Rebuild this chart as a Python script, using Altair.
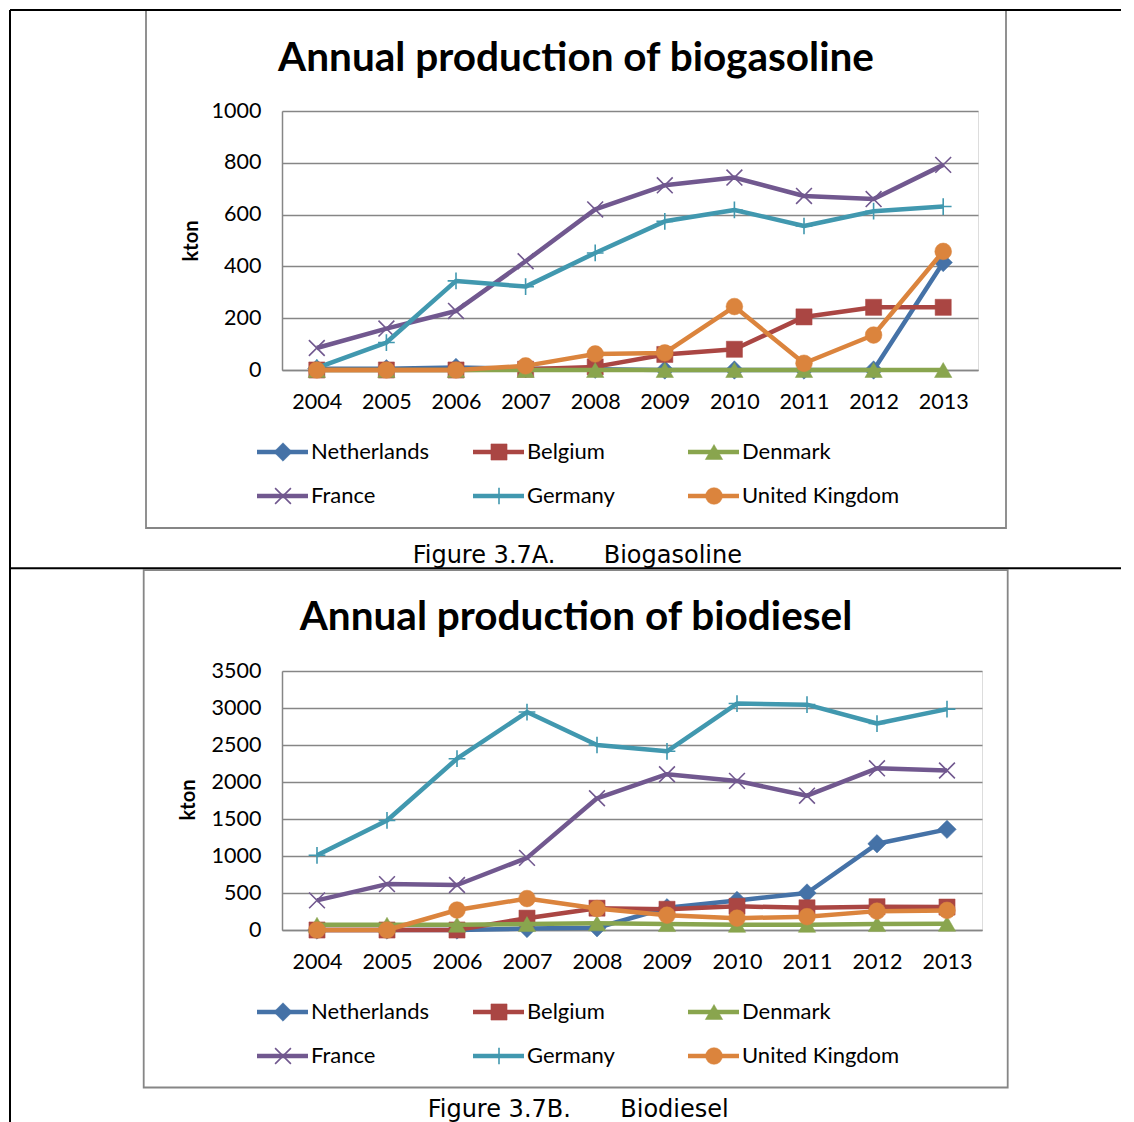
import altair as alt
import pandas as pd

years = [2004, 2005, 2006, 2007, 2008, 2009, 2010, 2011, 2012, 2013]
countries = ["Netherlands", "Belgium", "Denmark", "France", "Germany", "United Kingdom"]
colors = ["#4572A7", "#AA4643", "#89A54E", "#71588F", "#4198AF", "#DB843D"]

# Biogasoline (kton)
gas_netherlands = [5, 5, 10, 5, 3, 0, 0, 0, 0, 415]
gas_belgium = [0, 0, 0, 3, 12, 60, 80, 205, 242, 242]
gas_denmark = [0, 0, 0, 0, 0, 0, 0, 0, 0, 0]
gas_france = [85, 160, 228, 420, 620, 713, 743, 672, 660, 792]
gas_germany = [8, 106, 344, 322, 452, 574, 618, 556, 613, 631]
gas_uk = [0, 0, 0, 16, 62, 66, 245, 26, 135, 458]

# Biodiesel (kton)
die_netherlands = [0, 0, 0, 20, 30, 300, 400, 500, 1165, 1360]
die_belgium = [0, 0, 0, 160, 295, 280, 320, 300, 315, 310]
die_denmark = [70, 70, 70, 80, 90, 80, 70, 70, 80, 85]
die_france = [400, 620, 608, 975, 1780, 2105, 2015, 1815, 2185, 2155]
die_germany = [1010, 1480, 2315, 2945, 2500, 2415, 3060, 3045, 2790, 2985]
die_uk = [0, 0, 270, 425, 290, 200, 160, 180, 255, 265]

gas_series = [gas_netherlands, gas_belgium, gas_denmark, gas_france, gas_germany, gas_uk]
die_series = [die_netherlands, die_belgium, die_denmark, die_france, die_germany, die_uk]

X_PATH = "M-1,-1L1,1M-1,1L1,-1"
PLUS_PATH = "M-1,0L1,0M0,-1L0,1"
shapes = ["diamond", "square", "triangle-up", X_PATH, PLUS_PATH, "circle"]
filled = [True, True, True, False, False, True]
msize = [340, 260, 300, 250, 280, 280]

GRAY = "#868686"
LABEL_FONT = "Lato"
CAP_FONT = "DejaVu Sans"

one = pd.DataFrame({"k": [0]})


def point_mark(i):
    if filled[i]:
        return alt.Chart().mark_point(shape=shapes[i], filled=True, fill=colors[i],
                                      stroke=colors[i], strokeWidth=0.5,
                                      size=msize[i], opacity=1)
    return alt.Chart().mark_point(shape=shapes[i], filled=False, stroke=colors[i],
                                  strokeWidth=1.6, size=msize[i], opacity=1)


def hrule(x1, x2, y, color, w):
    return alt.Chart(one).mark_rule(color=color, strokeWidth=w).encode(
        x=alt.value(x1), x2=alt.value(x2), y=alt.value(y))


def vrule(x, y1, y2, color, w):
    return alt.Chart(one).mark_rule(color=color, strokeWidth=w).encode(
        x=alt.value(x), y=alt.value(y1), y2=alt.value(y2))


def text(t, x, y, font, size, weight="normal", align="left", angle=0, baseline="alphabetic"):
    return alt.Chart(one).mark_text(text=t, font=font, fontSize=size, fontWeight=weight,
                                    align=align, baseline=baseline, angle=angle,
                                    color="black").encode(x=alt.value(x), y=alt.value(y))


def panel(series, ymax, ystep, width, title, cap1, cap2, cap1_x, cap2_x, cap_y,
          box, kton_xy, title_y, is_top):
    frames = []
    for name, vals in zip(countries, series):
        frames.append(pd.DataFrame({"year": years, "country": name, "value": vals}))

    xenc = alt.X("year:O", scale=alt.Scale(type="point", padding=0.5),
                 axis=alt.Axis(title=None, labelAngle=0, ticks=False, grid=False,
                               domainColor=GRAY, domainWidth=1.5, labelFont=LABEL_FONT,
                               labelFontSize=21.5, labelColor="black", labelPadding=21))
    yenc = alt.Y("value:Q", scale=alt.Scale(domain=[0, ymax], nice=False, zero=True),
                 axis=alt.Axis(title=None, values=list(range(0, ymax + 1, ystep)),
                               format="d", ticks=False, grid=True, gridColor=GRAY,
                               gridWidth=1.5, domainColor=GRAY, domainWidth=1.5,
                               labelFont=LABEL_FONT, labelFontSize=21.5, labelColor="black",
                               labelPadding=21))

    layers = []
    # outer chart box
    layers.append(alt.Chart(one).mark_rect(filled=False, stroke=GRAY, strokeWidth=1.8).encode(
        x=alt.value(box[0]), x2=alt.value(box[1]), y=alt.value(box[2]), y2=alt.value(box[3])))

    for i, f in enumerate(frames):
        layers.append(alt.Chart(f).mark_line(color=colors[i], strokeWidth=4.5,
                                             strokeJoin="round").encode(x=xenc, y=yenc))
        layers.append(point_mark(i).properties(data=f).encode(x=xenc, y=yenc))

    # legend
    col_x = [-25, 191, 406]
    row_y = [341, 385]
    for i, name in enumerate(countries):
        cx = col_x[i % 3]
        ry = row_y[i // 3]
        layers.append(hrule(cx, cx + 51, ry, colors[i], 4.5))
        mk = point_mark(i).properties(data=one).encode(x=alt.value(cx + 26), y=alt.value(ry))
        layers.append(mk)
        layers.append(text(name, cx + 54, ry, LABEL_FONT, 22, baseline="middle"))

    # title, axis title, caption
    layers.append(text(title, 294, title_y, LABEL_FONT, 40.5, weight="bold", align="center"))
    layers.append(text("kton", kton_xy[0], kton_xy[1], LABEL_FONT, 20, weight="bold",
                       align="center", angle=270, baseline="middle"))
    layers.append(text(cap1, cap1_x, cap_y, CAP_FONT, 24))
    layers.append(text(cap2, cap2_x, cap_y, CAP_FONT, 24))

    # table frame lines
    if is_top:
        layers.append(hrule(-272, 839, -101, "black", 2))
        layers.append(hrule(-272, 839, 457.3, "black", 2))
        layers.append(vrule(-272, -101, 458, "black", 2))
    else:
        layers.append(vrule(-272, -103, 455, "black", 2))

    return alt.layer(*layers).properties(width=width, height=259)


top = panel(gas_series, 1000, 200, 696, "Annual production of biogasoline",
            "Figure 3.7A.", "Biogasoline", 130.7, 321.7, 452.3,
            (-136, 724, -101, 417), (-90.5, 130), -40.5, True)
bottom = panel(die_series, 3500, 500, 700, "Annual production of biodiesel",
               "Figure 3.7B.", "Biodiesel", 145.7, 338.3, 446,
               (-138.3, 725.7, -101, 416.5), (-93, 129), -41, False)

chart = alt.vconcat(top, bottom, spacing=301, bounds="flush", padding=0).configure_view(
    strokeWidth=0).configure(background="white")

chart.save("out.html", embed_options={"renderer": "svg", "actions": False})
